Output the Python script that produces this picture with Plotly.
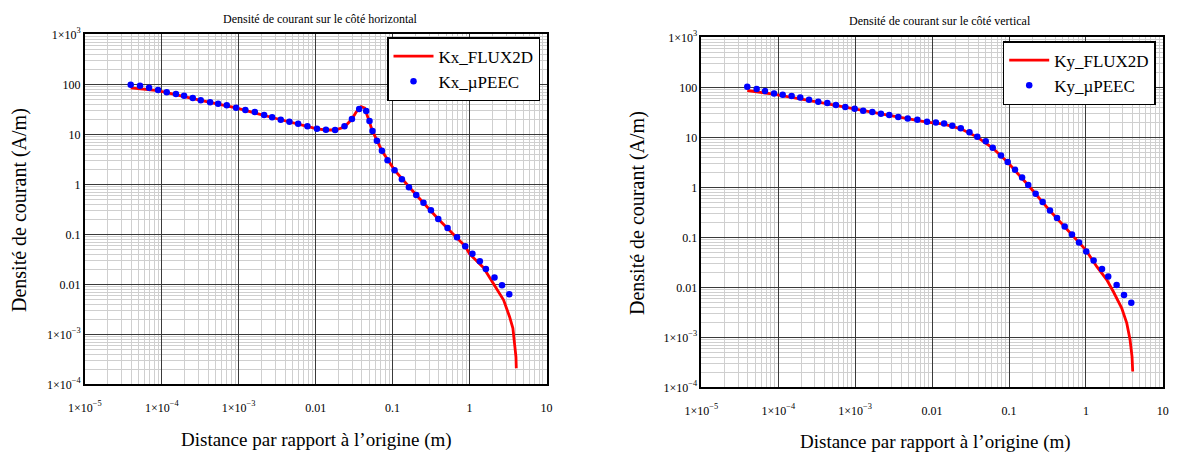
import plotly.graph_objects as go

# ---------------- data ----------------
# Left chart: horizontal side
kx_peec_x = [3.95e-5, 5.22e-5, 6.84e-5, 8.95e-5, 1.16e-4, 1.53e-4, 1.95e-4, 2.53e-4, 3.21e-4, 4.25e-4,
             5.40e-4, 7.00e-4, 9.24e-4, 1.22e-3, 1.62e-3, 2.14e-3, 2.72e-3, 3.52e-3, 4.56e-3, 5.92e-3,
             7.82e-3, 0.0104, 0.0136, 0.0179, 0.0237, 0.0296, 0.0368, 0.0454, 0.0501, 0.0548,
             0.0625, 0.0726, 0.0859, 0.106, 0.132, 0.163, 0.203, 0.252, 0.315, 0.392,
             0.518, 0.686, 0.879, 1.09, 1.36, 1.63, 2.11, 2.64, 3.28]
kx_peec_y = [98.2, 93.8, 85.5, 76.9, 69.2, 64.0, 59.2, 53.2, 47.9, 43.6,
             40.9, 38.0, 34.0, 30.6, 27.9, 24.3, 21.9, 19.6, 17.9, 16.3,
             14.5, 12.9, 12.4, 12.2, 14.5, 20.2, 32.1, 29.2, 18.5, 11.6,
             7.45, 4.70, 3.02, 1.91, 1.26, 0.871, 0.611, 0.429, 0.302, 0.202,
             0.134, 0.0871, 0.0575, 0.0409, 0.0288, 0.0202, 0.0136, 0.00955, 0.00631]

kx_flux_x = [3.95e-5, 8.95e-5, 3.21e-4, 9.24e-4, 2.72e-3, 7.82e-3, 0.0104, 0.0136, 0.0179, 0.0237,
             0.0296, 0.0336, 0.0391, 0.0434, 0.0501, 0.0548, 0.0726, 0.106, 0.203, 0.392,
             0.879, 1.0, 1.52, 2.05, 2.77, 3.31, 3.66, 3.84, 4.01, 4.05]
kx_flux_y = [84.4, 74.5, 47.7, 33.6, 21.7, 14.4, 12.8, 12.2, 12.2, 14.0,
             20.2, 27.9, 35.6, 33.6, 18.5, 11.6, 4.70, 1.91, 0.611, 0.202,
             0.0575, 0.0404, 0.0215, 0.0105, 0.00485, 0.00225, 0.00132, 6.61e-4, 3.56e-4, 2.09e-4]

# Right chart: vertical side
ky_peec_x = [3.95e-5, 5.23e-5, 6.71e-5, 8.79e-5, 1.14e-4, 1.49e-4, 1.93e-4, 2.51e-4, 3.31e-4, 4.34e-4,
             5.62e-4, 7.43e-4, 9.84e-4, 1.27e-3, 1.67e-3, 2.16e-3, 2.77e-3, 3.63e-3, 4.82e-3, 6.43e-3,
             8.59e-3, 0.0112, 0.0143, 0.0183, 0.0236, 0.0306, 0.0387, 0.0498, 0.0614, 0.0787,
             0.0962, 0.120, 0.148, 0.178, 0.222, 0.274, 0.341, 0.421, 0.530, 0.659,
             0.813, 1.01, 1.26, 1.62, 1.95, 2.51, 3.13, 3.89]
ky_peec_y = [102, 92.0, 84.0, 75.2, 70.8, 66.7, 62.5, 56.2, 51.3, 48.3,
             44.1, 40.2, 37.2, 33.9, 31.9, 29.5, 27.8, 25.4, 23.8, 22.4,
             20.4, 19.8, 18.8, 17.0, 15.1, 12.6, 10.2, 8.32, 6.17, 4.33,
             3.19, 2.24, 1.57, 1.11, 0.741, 0.506, 0.344, 0.242, 0.164, 0.114,
             0.0787, 0.052, 0.0344, 0.0231, 0.0164, 0.0111, 0.00698, 0.0049]

ky_flux_x = [3.95e-5, 8.61e-5, 3.31e-4, 9.84e-4, 2.77e-3, 8.59e-3, 0.0143, 0.0236, 0.0387, 0.0614,
             0.0962, 0.178, 0.341, 0.659, 0.994, 1.38, 1.87, 2.27, 2.92, 3.40,
             3.75, 3.98, 4.06]
ky_flux_y = [86.3, 73.1, 50.6, 36.6, 27.4, 20.1, 18.4, 14.8, 10.1, 6.08,
             3.16, 1.10, 0.339, 0.112, 0.0562, 0.0261, 0.0141, 0.00824, 0.00384, 0.00192,
             8.91e-4, 4.13e-4, 2.07e-4]

x_tickvals = [1e-5, 1e-4, 1e-3, 0.01, 0.1, 1, 10]
x_ticktext = ["1×10<sup>−5</sup>", "1×10<sup>−4</sup>", "1×10<sup>−3</sup>", "0.01", "0.1", "1", "10"]
y_tickvals = [1e-4, 1e-3, 0.01, 0.1, 1, 10, 100, 1000]
y_ticktext = ["1×10<sup>−4</sup>", "1×10<sup>−3</sup>", "0.01", "0.1", "1", "10", "100", "1×10<sup>3</sup>"]

titles = ["Densité de courant sur le côté horizontal", "Densité de courant sur le côté vertical"]
y_title = "Densité de courant (A/m)"
x_title = "Distance par rapport à l’origine (m)"
names = [("Kx_FLUX2D", "Kx_µPEEC"), ("Ky_FLUX2D", "Ky_µPEEC")]

# ---------------- figure ----------------
W, H = 1179, 455
FONT = "'Liberation Serif', 'DejaVu Serif', serif"
RED = "#ff0000"
BLUE = "#0000ff"

fig = go.Figure()

series = [(kx_flux_x, kx_flux_y, kx_peec_x, kx_peec_y), (ky_flux_x, ky_flux_y, ky_peec_x, ky_peec_y)]
axes = [("x", "y", "legend"), ("x2", "y2", "legend2")]
for (fx, fy, px, py), (xa, ya, lg), (n1, n2) in zip(series, axes, names):
    fig.add_trace(go.Scatter(x=fx, y=fy, mode="lines", name=n1, xaxis=xa, yaxis=ya, legend=lg,
                             line=dict(color=RED, width=2.8)))
    fig.add_trace(go.Scatter(x=px, y=py, mode="markers", name=n2, xaxis=xa, yaxis=ya, legend=lg,
                             marker=dict(color=BLUE, size=6.5, line=dict(width=0))))

# plot-area geometry (pixels)
boxes = [dict(l=84.8, r=546.5, t=34.3, b=384.3), dict(l=701.4, r=1162.8, t=37.3, b=387.3)]

def xdom(b):
    return [b["l"] / W, b["r"] / W]

def ydom(b):
    return [(H - b["b"]) / H, (H - b["t"]) / H]

common_x = dict(type="log", range=[-5, 1], tickmode="array", tickvals=x_tickvals, ticktext=x_ticktext,
                showgrid=True, gridcolor="#3a3a3a", gridwidth=1.2,
                minor=dict(dtick="D1", showgrid=True, gridcolor="#cfcfcf", gridwidth=1),
                showline=True, mirror=True, linecolor="black", linewidth=1.6,
                ticks="outside", ticklen=11, tickcolor="rgba(0,0,0,0)", automargin=False,
                tickfont=dict(family=FONT, size=12, color="black"), zeroline=False)
common_y = dict(type="log", range=[-4, 3], tickmode="array", tickvals=y_tickvals, ticktext=y_ticktext,
                showgrid=True, gridcolor="#3a3a3a", gridwidth=1.2,
                minor=dict(dtick="D1", showgrid=True, gridcolor="#cfcfcf", gridwidth=1),
                showline=True, mirror=True, linecolor="black", linewidth=1.6,
                ticks="", ticklen=0, automargin=False,
                tickfont=dict(family=FONT, size=12, color="black"), zeroline=False)

legend_common = dict(xanchor="right", yanchor="top", bgcolor="white", bordercolor="black",
                     borderwidth=1.5, font=dict(family=FONT, size=17, color="black"),
                     itemwidth=40, tracegroupgap=0)

fig.update_layout(
    width=W, height=H, margin=dict(l=0, r=0, t=0, b=0, autoexpand=False),
    paper_bgcolor="white", plot_bgcolor="white",
    xaxis=dict(domain=xdom(boxes[0]), anchor="y", **common_x),
    yaxis=dict(domain=ydom(boxes[0]), anchor="x", **common_y),
    xaxis2=dict(domain=xdom(boxes[1]), anchor="y2", **common_x),
    yaxis2=dict(domain=ydom(boxes[1]), anchor="x2", **common_y),
    legend=dict(x=540 / W, y=(H - 37) / H, **legend_common),
    legend2=dict(x=1155.7 / W, y=(H - 41) / H, **legend_common),
    showlegend=True,
)

annos = []
title_pos = [(320, 19), (940, 21)]
ytitle_pos = [(19, 210), (637, 213)]
xtitle_pos = [(316, 440), (935, 442)]
for i in range(2):
    tx, ty = title_pos[i]
    annos.append(dict(text=titles[i], x=tx / W, y=(H - ty) / H, xref="paper", yref="paper",
                      showarrow=False, xanchor="center", yanchor="middle",
                      font=dict(family=FONT, size=12, color="black")))
    yx, yy = ytitle_pos[i]
    annos.append(dict(text=y_title, x=yx / W, y=(H - yy) / H, xref="paper", yref="paper",
                      showarrow=False, xanchor="center", yanchor="middle", textangle=-90,
                      font=dict(family=FONT, size=20, color="black")))
    xx, xy = xtitle_pos[i]
    annos.append(dict(text=x_title, x=xx / W, y=(H - xy) / H, xref="paper", yref="paper",
                      showarrow=False, xanchor="center", yanchor="middle",
                      font=dict(family=FONT, size=19, color="black")))
fig.update_layout(annotations=annos)

fig.write_html("out.html",
               config={"displayModeBar": False},
               post_script="document.body.style.margin='0';document.body.style.padding='0';"
                           "document.documentElement.style.overflow='hidden';")
